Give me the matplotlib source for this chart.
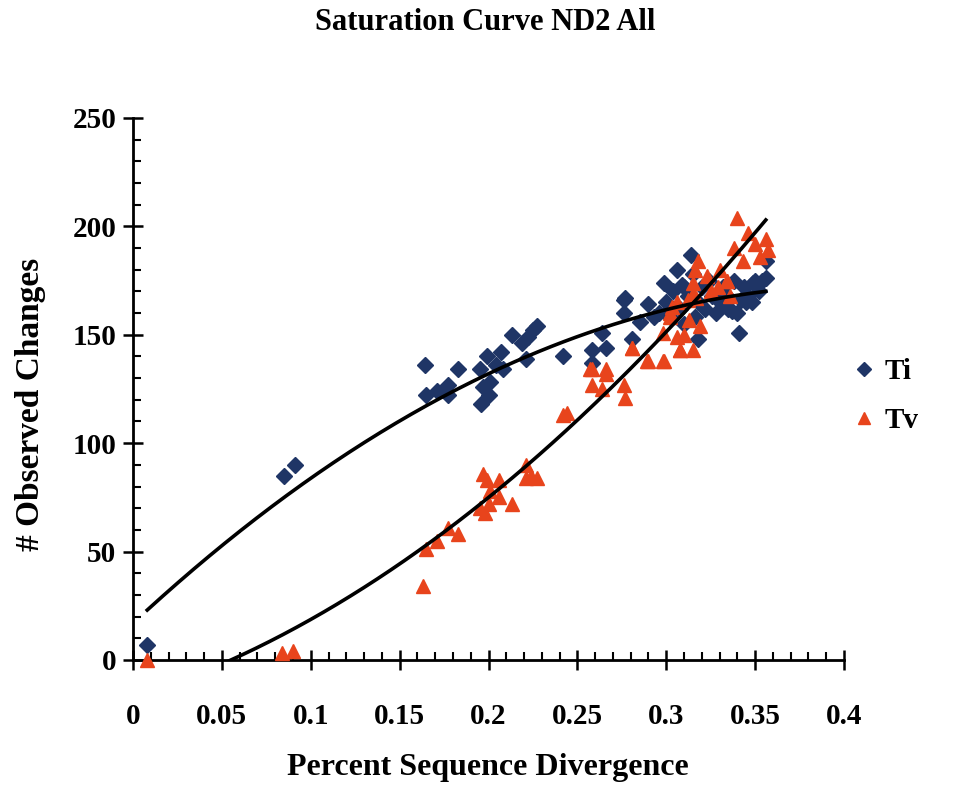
import matplotlib.pyplot as plt
from matplotlib.ticker import MultipleLocator
import numpy as np

# ============================
# DADOS
# ============================

ti_x = [0.008, 0.085, 0.091, 0.164, 0.165, 0.171, 0.177, 0.177, 0.183, 0.195,
        0.196, 0.197, 0.199, 0.200, 0.201, 0.204, 0.207, 0.208, 0.213, 0.219,
        0.221, 0.222, 0.225, 0.227, 0.242, 0.258, 0.258, 0.264, 0.266, 0.276,
        0.276, 0.277, 0.281, 0.285, 0.290, 0.293, 0.296, 0.299, 0.300, 0.302,
        0.304, 0.306, 0.308, 0.309, 0.310, 0.312, 0.314, 0.315, 0.316, 0.318,
        0.318, 0.320, 0.322, 0.324, 0.326, 0.328, 0.330, 0.332, 0.334, 0.335,
        0.337, 0.338, 0.340, 0.341, 0.342, 0.344, 0.345, 0.346, 0.348, 0.349,
        0.350, 0.352, 0.354, 0.356, 0.356, 0.310, 0.300]
ti_y = [7, 85, 90, 136, 122, 124, 127, 122, 134, 134,
        118, 126, 140, 122, 128, 136, 142, 134, 150, 146,
        139, 149, 152, 154, 140, 143, 137, 151, 144, 166,
        160, 167, 148, 156, 164, 158, 160, 174, 165, 158,
        170, 180, 162, 173, 172, 168, 187, 178, 158, 148,
        165, 172, 162, 175, 168, 160, 165, 172, 168, 162,
        161, 175, 160, 151, 166, 172, 165, 168, 165, 174,
        175, 170, 175, 176, 184, 155, 160]

tv_x = [0.008, 0.084, 0.090, 0.163, 0.165, 0.171, 0.177, 0.183, 0.195, 0.197,
        0.198, 0.199, 0.200, 0.201, 0.206, 0.206, 0.213, 0.221, 0.221, 0.224,
        0.227, 0.242, 0.244, 0.257, 0.258, 0.258, 0.264, 0.266, 0.266, 0.276,
        0.277, 0.281, 0.281, 0.289, 0.290, 0.298, 0.298, 0.299, 0.302, 0.302,
        0.303, 0.306, 0.306, 0.308, 0.308, 0.312, 0.313, 0.315, 0.315, 0.315,
        0.316, 0.317, 0.318, 0.319, 0.323, 0.329, 0.330, 0.334, 0.334, 0.338,
        0.340, 0.343, 0.346, 0.353, 0.356, 0.357, 0.325, 0.310, 0.336, 0.350]
tv_y = [0, 3, 4, 34, 51, 55, 61, 58, 70, 86,
        68, 83, 72, 78, 83, 75, 72, 90, 84, 85,
        84, 113, 114, 134, 134, 127, 125, 134, 132, 127,
        121, 144, 144, 138, 138, 138, 151, 138, 158, 160,
        163, 149, 165, 143, 143, 166, 157, 143, 169, 174,
        180, 167, 184, 154, 177, 172, 180, 175, 175, 190,
        204, 184, 197, 186, 194, 189, 170, 150, 168, 192]

# coeficientes das linhas de tendência polinomiais (c0 + c1*x + c2*x^2)
ti_coef = [17.0, 761.4, -931.4]
tv_coef = [-17.4, 260.3, 1007.5]
ti_fit_range = [0.008, 0.356]
tv_fit_range = [0.054, 0.356]

x_ticks = [0, 0.05, 0.1, 0.15, 0.2, 0.25, 0.3, 0.35, 0.4]
x_tick_labels = ["0", "0.05", "0.1", "0.15", "0.2", "0.25", "0.3", "0.35", "0.4"]
y_ticks = [0, 50, 100, 150, 200, 250]

cor_ti = "#1f3566"
cor_tv = "#e8441c"
fonte = "Liberation Serif"

# ============================
# GRÁFICO
# ============================

fig = plt.figure(figsize=(9.78, 7.89), dpi=100)
ax = fig.add_axes([0.136, 0.1635, 0.727, 0.687])

ax.plot(ti_x, ti_y, linestyle="none", marker="D", markersize=8,
        color=cor_ti, label="Ti", clip_on=False, zorder=3)
ax.plot(tv_x, tv_y, linestyle="none", marker="^", markersize=10,
        color=cor_tv, label="Tv", clip_on=False, zorder=3)

xs = np.linspace(ti_fit_range[0], ti_fit_range[1], 200)
ax.plot(xs, np.polynomial.polynomial.polyval(xs, ti_coef), color="black", lw=2.6, zorder=4)
xs = np.linspace(tv_fit_range[0], tv_fit_range[1], 200)
ax.plot(xs, np.polynomial.polynomial.polyval(xs, tv_coef), color="black", lw=2.6, zorder=4)

ax.set_xlim(0, 0.4)
ax.set_ylim(0, 250)
ax.spines["top"].set_visible(False)
ax.spines["right"].set_visible(False)
ax.spines["left"].set_linewidth(2)
ax.spines["bottom"].set_linewidth(2)

ax.set_xticks(x_ticks)
ax.set_xticklabels(x_tick_labels)
ax.set_yticks(y_ticks)
ax.xaxis.set_minor_locator(MultipleLocator(0.01))
ax.yaxis.set_minor_locator(MultipleLocator(10))
ax.tick_params(which="major", direction="inout", length=14, width=1.8, labelsize=21)
ax.tick_params(axis="x", which="major", pad=24)
ax.tick_params(axis="y", which="major", pad=5)
ax.tick_params(which="minor", direction="in", length=6, width=1.5)
for lab in ax.get_xticklabels() + ax.get_yticklabels():
    lab.set_fontfamily(fonte)
    lab.set_fontweight("bold")

fig.text(0.496, 0.972, "Saturation Curve ND2 All", ha="center", va="center",
         fontsize=22, fontweight="bold", fontfamily=fonte)
fig.text(0.499, 0.027, "Percent Sequence Divergence", ha="center", va="center",
         fontsize=23, fontweight="bold", fontfamily=fonte)
fig.text(0.031, 0.487, "# Observed Changes", ha="center", va="center", rotation=90,
         fontsize=24, fontweight="bold", fontfamily=fonte)

ax.legend(loc="center left", bbox_to_anchor=(0.842, 0.498), bbox_transform=fig.transFigure,
          frameon=False, handletextpad=0.2, handlelength=1.0, labelspacing=0.75,
          prop={"family": fonte, "weight": "bold", "size": 21}, markerscale=0.9)

fig.savefig("out.png", dpi=100)
